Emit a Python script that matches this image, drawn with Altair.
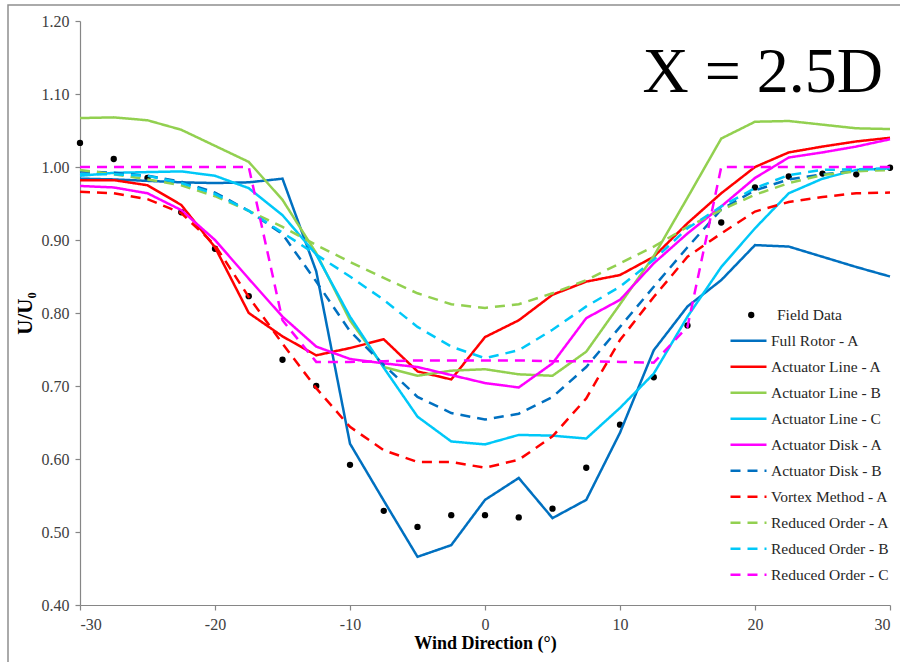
import altair as alt
import pandas as pd

# ---------------- data ----------------
WIND_DIR = [-30, -27.5, -25, -22.5, -20, -17.5, -15, -12.5, -10, -7.5, -5, -2.5,
            0, 2.5, 5, 7.5, 10, 12.5, 15, 17.5, 20, 22.5, 25, 27.5, 30]

FIELD_DATA = [1.033, 1.011, 0.985, 0.938, 0.888, 0.823, 0.736, 0.700, 0.592, 0.529, 0.507, 0.523,
              0.523, 0.520, 0.532, 0.588, 0.647, 0.712, 0.783, 0.924, 0.972, 0.987, 0.991, 0.990, 0.999]

FULL_ROTOR_A = [0.984, 0.983, 0.981, 0.979, 0.978, 0.979, 0.984, 0.857, 0.621, 0.543, 0.466, 0.482,
                0.544, 0.574, 0.519, 0.544, 0.636, 0.749, 0.809, 0.845, 0.893, 0.891, 0.877, 0.863, 0.850]

ACT_LINE_A = [0.982, 0.982, 0.975, 0.948, 0.890, 0.800, 0.768, 0.742, 0.752, 0.764, 0.720, 0.709,
              0.767, 0.790, 0.825, 0.843, 0.852, 0.877, 0.923, 0.964, 1.000, 1.020, 1.028, 1.035, 1.040]

ACT_LINE_B = [1.067, 1.068, 1.064, 1.051, 1.029, 1.007, 0.955, 0.882, 0.790, 0.726, 0.714, 0.721,
              0.723, 0.716, 0.714, 0.747, 0.812, 0.878, 0.958, 1.039, 1.062, 1.063, 1.058, 1.053, 1.052]

ACT_LINE_C = [0.988, 0.992, 0.993, 0.994, 0.988, 0.971, 0.934, 0.880, 0.795, 0.725, 0.658, 0.624,
              0.620, 0.633, 0.632, 0.628, 0.670, 0.717, 0.795, 0.863, 0.916, 0.964, 0.984, 0.996, 0.998]

ACT_DISK_A = [0.974, 0.972, 0.964, 0.941, 0.900, 0.847, 0.795, 0.754, 0.737, 0.731, 0.726, 0.715,
              0.704, 0.698, 0.731, 0.793, 0.818, 0.868, 0.909, 0.946, 0.985, 1.013, 1.020, 1.028, 1.038]

ACT_DISK_B = [0.994, 0.992, 0.988, 0.980, 0.965, 0.940, 0.908, 0.843, 0.775, 0.729, 0.685, 0.663,
              0.654, 0.662, 0.685, 0.726, 0.781, 0.836, 0.890, 0.942, 0.968, 0.983, 0.990, 0.995, 0.998]

VORTEX_A = [0.966, 0.964, 0.956, 0.937, 0.893, 0.822, 0.758, 0.697, 0.644, 0.612, 0.596, 0.596,
            0.588, 0.599, 0.631, 0.683, 0.763, 0.822, 0.877, 0.909, 0.939, 0.952, 0.959, 0.964, 0.965]

RED_ORDER_A = [0.996, 0.990, 0.983, 0.975, 0.960, 0.940, 0.918, 0.893, 0.870, 0.848, 0.827, 0.812,
               0.807, 0.812, 0.827, 0.845, 0.868, 0.891, 0.918, 0.941, 0.962, 0.978, 0.989, 0.994, 0.996]

RED_ORDER_B = [0.990, 0.990, 0.988, 0.978, 0.963, 0.940, 0.910, 0.880, 0.850, 0.818, 0.781, 0.754,
               0.738, 0.749, 0.777, 0.809, 0.836, 0.873, 0.916, 0.946, 0.971, 0.989, 0.996, 0.997, 0.998]

RED_ORDER_C = [1.000, 1.000, 1.000, 1.000, 1.000, 1.000, 0.790, 0.733, 0.733, 0.734, 0.735, 0.735,
               0.735, 0.735, 0.734, 0.734, 0.733, 0.732, 0.781, 1.000, 1.000, 1.000, 1.000, 1.000, 1.000]

SERIES_NAMES = ["Full Rotor - A", "Actuator Line - A", "Actuator Line - B", "Actuator Line - C",
                "Actuator Disk - A", "Actuator Disk - B", "Vortex Method - A",
                "Reduced Order - A", "Reduced Order - B", "Reduced Order - C"]
SERIES_VALUES = [FULL_ROTOR_A, ACT_LINE_A, ACT_LINE_B, ACT_LINE_C, ACT_DISK_A, ACT_DISK_B,
                 VORTEX_A, RED_ORDER_A, RED_ORDER_B, RED_ORDER_C]
SERIES_COLORS = ["#0070C0", "#FF0000", "#92D050", "#00C8F8", "#FF00FF",
                 "#0070C0", "#FF0000", "#92D050", "#00C8F8", "#FF00FF"]
SERIES_DASHED = [False, False, False, False, False, True, True, True, True, True]

FIELD_LABEL = "Field Data"
TITLE_TEXT = "X = 2.5D"
X_TICKS = [-30, -20, -10, 0, 10, 20, 30]
Y_TICKS = [0.4, 0.5, 0.6, 0.7, 0.8, 0.9, 1.0, 1.1, 1.2]

# ---------------- tables ----------------
rows = []
for name, vals in zip(SERIES_NAMES, SERIES_VALUES):
    for xv, yv in zip(WIND_DIR, vals):
        rows.append({"wind": xv, "u": yv, "series": name})
lines_df = pd.DataFrame(rows)
field_df = pd.DataFrame({"wind": WIND_DIR, "u": FIELD_DATA, "src": [FIELD_LABEL] * len(WIND_DIR)})

DASH_RANGE = [[10, 7] if d else [1, 0] for d in SERIES_DASHED]
FONT = "Liberation Serif"

x_enc = alt.X("wind:Q",
              scale=alt.Scale(domain=[-30, 30], nice=False, zero=False),
              axis=alt.Axis(title="Wind Direction (°)", values=X_TICKS,
                            labelExpr="'' + datum.value",
                            labelFont=FONT, labelFontSize=16, titleFont=FONT, titleFontSize=18,
                            tickSize=5, labelPadding=6, titlePadding=2))
y_enc = alt.Y("u:Q",
              scale=alt.Scale(domain=[0.4, 1.2], nice=False, zero=False),
              axis=alt.Axis(title="U/U₀", values=Y_TICKS, format=".2f",
                            labelFont=FONT, labelFontSize=16, titleFont=FONT, titleFontSize=21,
                            tickSize=5, labelPadding=6, titlePadding=6))

line_legend = alt.Legend(title=None, orient="none", legendX=649, legendY=307,
                         symbolType="stroke", symbolSize=1296, symbolStrokeWidth=2.5,
                         labelFont=FONT, labelFontSize=15.5, labelColor="#262626",
                         labelOffset=3, clipHeight=25.4, rowPadding=0, padding=0)

frame = alt.Chart(pd.DataFrame({"k": [0]})).mark_rect(
    fillOpacity=0, stroke="#8f8f8f", strokeWidth=1.5
).encode(x=alt.value(-72), x2=alt.value(840), y=alt.value(-16), y2=alt.value(660))

dots = alt.Chart(field_df).mark_circle(size=40, opacity=1).encode(
    x=x_enc, y=y_enc,
    fill=alt.Fill("src:N", scale=alt.Scale(domain=[FIELD_LABEL], range=["black"]),
                  legend=alt.Legend(title=None, orient="none", legendX=663.5, legendY=281.3,
                                    symbolType="circle", symbolSize=40, symbolStrokeWidth=0,
                                    labelFont=FONT, labelFontSize=15.5, labelColor="#262626",
                                    labelOffset=18, clipHeight=25.4, rowPadding=0, padding=0)),
)

lines = alt.Chart(lines_df).mark_line(strokeWidth=2.5).encode(
    x=x_enc, y=y_enc,
    color=alt.Color("series:N", scale=alt.Scale(domain=SERIES_NAMES, range=SERIES_COLORS),
                    legend=line_legend),
    strokeDash=alt.StrokeDash("series:N", scale=alt.Scale(domain=SERIES_NAMES, range=DASH_RANGE),
                              legend=line_legend),
)

title = alt.Chart(pd.DataFrame({"t": [TITLE_TEXT]})).mark_text(
    align="right", baseline="alphabetic", fontSize=64, font=FONT, color="black"
).encode(text="t:N", x=alt.value(803), y=alt.value(71))

chart = alt.layer(frame, dots, lines, title).resolve_scale(fill="independent").properties(
    width=810, height=584,
    autosize=alt.AutoSizeParams(type="none"),
    padding={"left": 80, "top": 21, "right": 10, "bottom": 57},
    background="white",
).configure(font=FONT).configure_axis(
    titleFontWeight="bold", domainColor="#868686", tickColor="#868686",
    labelColor="#404040", titleColor="black", grid=False, domainWidth=1.2, tickWidth=1.2,
).configure_legend(
    labelLimit=300,
).configure_view(strokeWidth=0)

chart.save("out.html", embed_options={"renderer": "svg", "actions": False})
